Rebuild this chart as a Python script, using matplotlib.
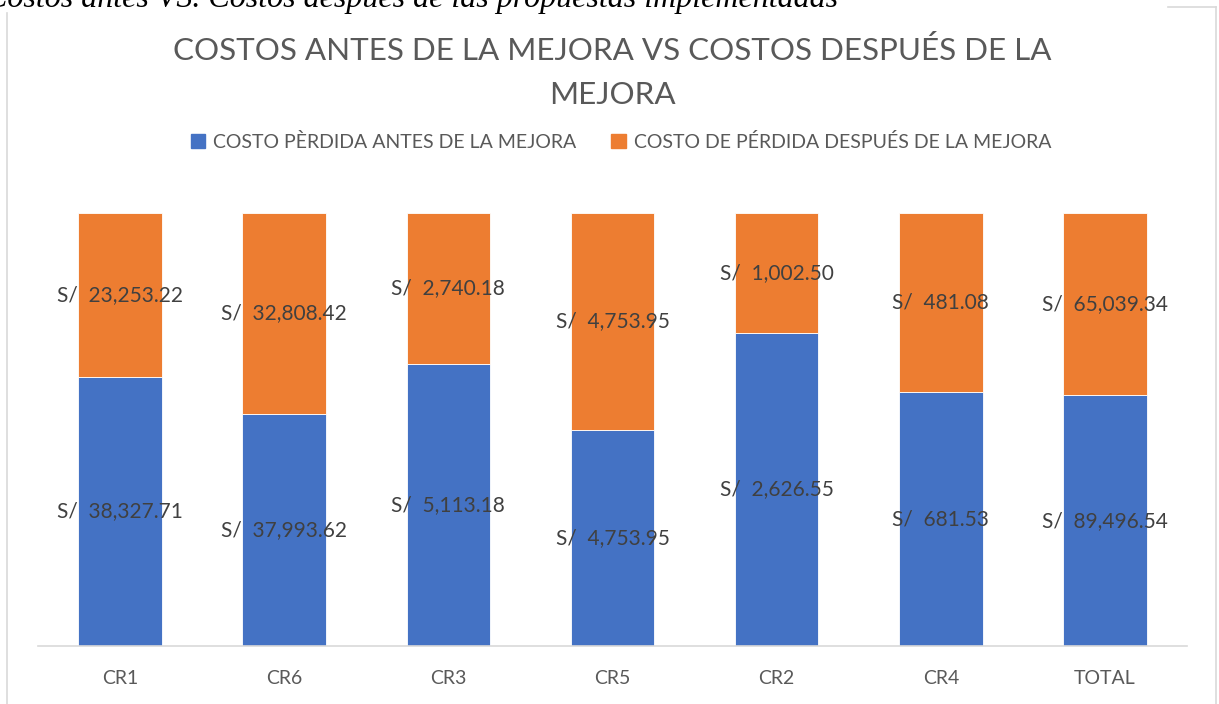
import matplotlib
matplotlib.use("Agg")
import matplotlib.pyplot as plt
from matplotlib.lines import Line2D
from matplotlib.patches import Patch

# datos del grafico (soles)
categorias = ["CR1", "CR6", "CR3", "CR5", "CR2", "CR4", "TOTAL"]
costo_antes = [38327.71, 37993.62, 5113.18, 4753.95, 2626.55, 681.53, 89496.54]
costo_despues = [23253.22, 32808.42, 2740.18, 4753.95, 1002.50, 481.08, 65039.34]

serie_antes = "COSTO PÈRDIDA ANTES DE LA MEJORA"
serie_despues = "COSTO DE PÉRDIDA DESPUÉS DE LA MEJORA"
titulo_1 = "COSTOS ANTES DE LA MEJORA VS COSTOS DESPUÉS DE LA"
titulo_2 = "MEJORA"
leyenda_fig = "Costos antes VS. Costos después de las propuestas implementadas"

AZUL, NARANJA = "#4472C4", "#ED7D31"
GRIS_TXT, GRIS_LBL, GRIS_LIN = "#595959", "#404040", "#D9D9D9"
FONT = "Lato"

W, H = 1219, 704
fig = plt.figure(figsize=(W / 100, H / 100), dpi=100)

# caption cortado arriba (como en el documento)
fig.text(838 / W, 1 - 7 / H, leyenda_fig, ha="right", va="baseline",
         family="Liberation Serif", style="italic", fontsize=23, color="black",
         zorder=5)

# borde del area del grafico
for xs, ys in [([7, 7], [13, H + 5]), ([1168, 1216], [7, 7]), ([1216, 1216], [7, H + 5])]:
    fig.add_artist(Line2D([x / W for x in xs], [1 - y / H for y in ys],
                          color=GRIS_LIN, lw=1.2))

fig.text(612 / W, 1 - 50 / H, titulo_1, ha="center", va="center",
         family=FONT, fontsize=22.6, color=GRIS_TXT)
fig.text(612 / W, 1 - 95 / H, titulo_2, ha="center", va="center",
         family=FONT, fontsize=22.6, color=GRIS_TXT)

ax = fig.add_axes([38 / W, 58 / H, 1149 / W, 433 / H])
x = list(range(len(categorias)))
tot = [a + d for a, d in zip(costo_antes, costo_despues)]
p_antes = [a / t for a, t in zip(costo_antes, tot)]
p_desp = [d / t for d, t in zip(costo_despues, tot)]

ax.bar(x, p_antes, width=0.51, color=AZUL, edgecolor="white", linewidth=0.6)
ax.bar(x, p_desp, width=0.51, bottom=p_antes, color=NARANJA, edgecolor="white", linewidth=0.6)

for i in x:
    ax.text(i, p_antes[i] / 2, f"S/  {costo_antes[i]:,.2f}", ha="center", va="center",
            family=FONT, fontsize=15, color=GRIS_LBL)
    ax.text(i, p_antes[i] + p_desp[i] / 2, f"S/  {costo_despues[i]:,.2f}", ha="center",
            va="center", family=FONT, fontsize=15, color=GRIS_LBL)

ax.set_xlim(-0.5, len(categorias) - 0.5)
ax.set_ylim(0, 1)
ax.set_yticks([])
ax.set_xticks(x)
ax.set_xticklabels(categorias, family=FONT, fontsize=14, color=GRIS_TXT)
ax.tick_params(axis="x", length=0, pad=17)
for s in ["top", "right", "left"]:
    ax.spines[s].set_visible(False)
ax.spines["bottom"].set_color(GRIS_LIN)
ax.spines["bottom"].set_linewidth(1.2)

handles = [Patch(color=AZUL, label=serie_antes), Patch(color=NARANJA, label=serie_despues)]
fig.legend(handles=handles, loc="center", bbox_to_anchor=(621 / W, 1 - 142 / H), ncol=2,
           frameon=False, prop={"family": FONT, "size": 14}, labelcolor=GRIS_TXT,
           handlelength=0.75, handleheight=0.75, handletextpad=0.4, columnspacing=1.8)

fig.savefig("out.png", dpi=100)
